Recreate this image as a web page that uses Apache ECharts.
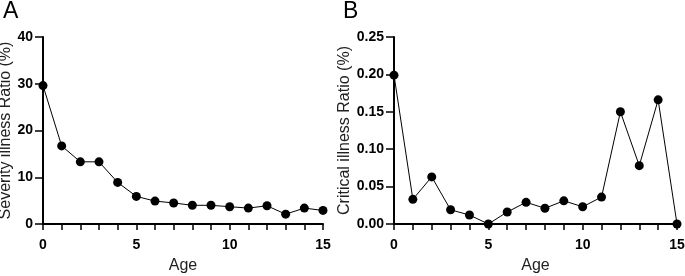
<!DOCTYPE html>
<html><head><meta charset="utf-8">
<script src="https://cdn.jsdelivr.net/npm/echarts@6/dist/echarts.min.js"></script>
<style>html,body{margin:0;padding:0;background:#fff}#c{width:685px;height:276px}</style>
</head><body><div id="c"></div>
<script>
const ages = [0,1,2,3,4,5,6,7,8,9,10,11,12,13,14,15];
const severityRatio = [29.6,16.7,13.3,13.3,8.9,5.9,4.9,4.5,4.0,4.0,3.7,3.4,3.9,2.1,3.4,2.9];
const criticalRatio = [0.199,0.033,0.063,0.019,0.012,0.0,0.016,0.029,0.021,0.031,0.023,0.036,0.150,0.078,0.166,0.0];
const yTicksA = [0,10,20,30,40];
const yTicksB = ['0.00','0.05','0.10','0.15','0.20','0.25'];

const font = 'Liberation Sans, Arial, sans-serif';
function xAxis(gi){
  return {type:'value',gridIndex:gi,min:0,max:15,interval:1,name:'Age',nameLocation:'middle',nameGap:34,
    nameTextStyle:{fontFamily:font,fontSize:16,color:'#222'},
    axisLine:{lineStyle:{color:'#000',width:2}},axisTick:{length:6,lineStyle:{color:'#000',width:1.5}},
    splitLine:{show:false},
    axisLabel:{fontFamily:font,fontSize:14,fontWeight:'bold',color:'#000',margin:14,
      formatter:v=> (v%5===0? String(v):'')}};
}
const chart = echarts.init(document.getElementById('c'));
chart.setOption({
  animation:false,
  graphic:[
    {type:'text',left:3,top:0,style:{text:'A',fontFamily:font,fontSize:23,fill:'#000'}},
    {type:'text',left:343,top:0,style:{text:'B',fontFamily:font,fontSize:23,fill:'#000'}}
  ],
  grid:[{left:43,top:37,width:280,height:187,containLabel:false,outerBoundsMode:'none'},
        {left:394,top:37,width:283,height:187,containLabel:false,outerBoundsMode:'none'}],
  xAxis:[xAxis(0),xAxis(1)],
  yAxis:[
    {type:'value',gridIndex:0,min:0,max:40,interval:10,name:'Severity illness Ratio (%)',nameLocation:'middle',nameGap:28,
     nameTextStyle:{fontFamily:font,fontSize:16,color:'#222'},
     axisLine:{show:true,lineStyle:{color:'#000',width:2}},axisTick:{show:true,length:8,lineStyle:{color:'#000',width:1.5}},
     splitLine:{show:false},
     axisLabel:{fontFamily:font,fontSize:14,fontWeight:'bold',color:'#000',margin:10,formatter:v=>String(yTicksA[Math.round(v/10)])}},
    {type:'value',gridIndex:1,min:0,max:0.25,interval:0.05,name:'Critical illness Ratio (%)',nameLocation:'middle',nameGap:38,
     nameTextStyle:{fontFamily:font,fontSize:16,color:'#222'},
     axisLine:{show:true,lineStyle:{color:'#000',width:2}},axisTick:{show:true,length:8,lineStyle:{color:'#000',width:1.5}},
     splitLine:{show:false},
     axisLabel:{fontFamily:font,fontSize:14,fontWeight:'bold',color:'#000',margin:10,formatter:v=>yTicksB[Math.round(v/0.05)]}}
  ],
  series:[
    {type:'line',xAxisIndex:0,yAxisIndex:0,data:ages.map((a,i)=>[a,severityRatio[i]]),symbol:'circle',symbolSize:9,clip:false,
     itemStyle:{color:'#000'},lineStyle:{color:'#000',width:1}},
    {type:'line',xAxisIndex:1,yAxisIndex:1,data:ages.map((a,i)=>[a,criticalRatio[i]]),symbol:'circle',symbolSize:9,clip:false,
     itemStyle:{color:'#000'},lineStyle:{color:'#000',width:1}}
  ]
});
</script></body></html>
